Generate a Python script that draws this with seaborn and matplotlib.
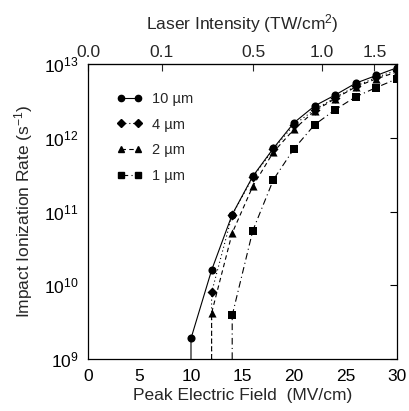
import numpy as np
import pandas as pd
import matplotlib
matplotlib.use("Agg")
import matplotlib.pyplot as plt
from matplotlib.lines import Line2D
from matplotlib.ticker import LogLocator, FixedLocator, FixedFormatter
import seaborn as sns

# Peak electric field (MV/cm) and impact ionization rates (s^-1)
field = [10, 12, 14, 16, 18, 20, 22, 24, 26, 28, 30]
rate_10um = [1.9e9, 1.6e10, 9.1e10, 3.0e11, 7.2e11, 1.6e12, 2.7e12, 3.8e12, 5.5e12, 7.0e12, 8.9e12]
field_4um = [12, 14, 16, 18, 20, 22, 24, 26, 28, 30]
rate_4um = [8.0e9, 9.0e10, 2.9e11, 7.0e11, 1.5e12, 2.4e12, 3.5e12, 5.0e12, 6.6e12, 8.2e12]
field_2um = [12, 14, 16, 18, 20, 22, 24, 26, 28, 30]
rate_2um = [4.2e9, 5.1e10, 2.2e11, 6.4e11, 1.3e12, 2.3e12, 3.4e12, 4.9e12, 6.3e12, 7.8e12]
field_1um = [14, 16, 18, 20, 22, 24, 26, 28, 30]
rate_1um = [3.9e9, 5.5e10, 2.7e11, 7.1e11, 1.5e12, 2.4e12, 3.6e12, 4.8e12, 6.3e12]

# Onset fields where each curve leaves the bottom of the plot
onset = {"10 µm": 10, "4 µm": 12, "2 µm": 12, "1 µm": 14}
rate_floor = 1e9

# Top axis: laser intensity (TW/cm^2) with E proportional to sqrt(I)
intensity_ticks = [0.0, 0.1, 0.5, 1.0, 1.5]
intensity_labels = ["0.0", "0.1", "0.5", "1.0", "1.5"]
field_per_sqrt_intensity = 22.7

x_ticks = [0, 5, 10, 15, 20, 25, 30]

series = [
    ("10 µm", field, rate_10um, "o", "-"),
    ("4 µm", field_4um, rate_4um, "D", (0, (1, 2.5))),
    ("2 µm", field_2um, rate_2um, "^", (0, (4, 3))),
    ("1 µm", field_1um, rate_1um, "s", (0, (6, 3, 1, 3))),
]

sns.set_style("white")
plt.rcParams["font.family"] = ["Liberation Sans", "DejaVu Sans"]
plt.rcParams["mathtext.default"] = "regular"

fig = plt.figure(figsize=(4.10, 4.11), dpi=100)
ax = fig.add_axes([0.2146, 0.1265, 0.7537, 0.7178])

handles = []
for name, xs, ys, mk, ls in series:
    line_df = pd.DataFrame({"E": [onset[name]] + list(xs), "R": [rate_floor] + list(ys)})
    sns.lineplot(data=line_df, x="E", y="R", ax=ax, color="black", lw=0.8,
                 linestyle=ls, sort=False, estimator=None)
    pts = pd.DataFrame({"E": xs, "R": ys})
    msize = 26 if mk == "D" else 34
    sns.scatterplot(data=pts, x="E", y="R", ax=ax, marker=mk, color="black",
                    s=msize, edgecolor="black", linewidth=0, zorder=3)
    handles.append(Line2D([0], [0], color="black", lw=0.8, linestyle=ls,
                          marker=mk, markersize=4.5 if mk != "D" else 4,
                          label=name))

ax.set_yscale("log")
ax.set_xlim(0, 30)
ax.set_ylim(1e9, 1e13)
ax.set_xticks(x_ticks)
ax.set_xticklabels([str(t) for t in x_ticks])
ax.yaxis.set_major_locator(LogLocator(base=10, numticks=10))
ax.yaxis.set_minor_locator(FixedLocator([]))
ax.set_xlabel("Peak Electric Field  (MV/cm)", fontsize=12.5, labelpad=3)
ax.set_ylabel("Impact Ionization Rate (s$^{-1}$)", fontsize=12.5, labelpad=6)
ax.tick_params(axis="both", which="major", direction="in", length=5, width=0.8,
               labelsize=12.5, pad=7, top=False, right=True, colors="black")

top = ax.secondary_xaxis(
    "top",
    functions=(lambda e: (np.asarray(e) / field_per_sqrt_intensity) ** 2,
               lambda i: field_per_sqrt_intensity * np.sqrt(np.clip(i, 0, None))))
top.xaxis.set_major_locator(FixedLocator(intensity_ticks))
top.xaxis.set_major_formatter(FixedFormatter(intensity_labels))
top.tick_params(direction="in", length=5, width=0.8, labelsize=12.5, pad=3)
top.set_xlabel("Laser Intensity (TW/cm$^{2}$)", fontsize=12.5, labelpad=11)

for sp in ax.spines.values():
    sp.set_color("black")
    sp.set_linewidth(0.9)

ax.legend(handles=handles, loc="upper left", bbox_to_anchor=(0.05, 0.95),
          frameon=False, numpoints=2, handlelength=1.8, handletextpad=0.6,
          labelspacing=0.8, fontsize=10.5)

fig.savefig("out.png", dpi=100)
